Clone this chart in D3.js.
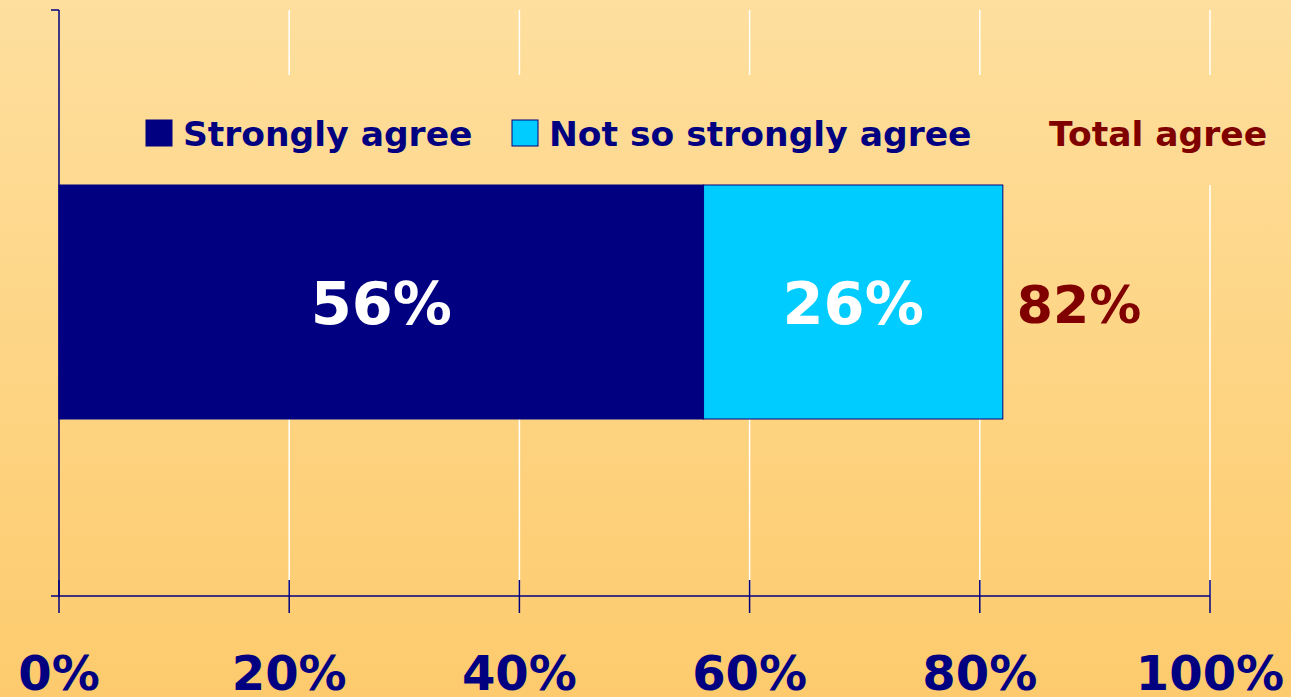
<!DOCTYPE html>
<html><head><meta charset="utf-8">
<script src="https://cdn.jsdelivr.net/npm/d3@7"></script>
<style>html,body{margin:0;padding:0;overflow:hidden;}svg{display:block;}</style>
</head><body>
<svg id="c" width="1291" height="697"></svg>
<script>
const categories = ["Total"];
const seriesNames = ["Strongly agree", "Not so strongly agree"];
const strongly = [56];
const notSo = [26];
const totals = [82];
const tickValues = [0, 20, 40, 60, 80, 100];
const tickLabels = ["0%", "20%", "40%", "60%", "80%", "100%"];
const colors = ["#000080", "#00CCFF"];

const W = 1291, H = 697;
const svg = d3.select("#c");
const defs = svg.append("defs");
const grad = defs.append("linearGradient").attr("id","bg")
  .attr("gradientUnits","userSpaceOnUse").attr("x1",0).attr("y1",0).attr("x2",0).attr("y2",H);
grad.append("stop").attr("offset","0%").attr("stop-color","#FEDF9E");
grad.append("stop").attr("offset","100%").attr("stop-color","#FDCB6D");
svg.append("rect").attr("width",W).attr("height",H).attr("fill","url(#bg)");

const x = d3.scaleLinear().domain([0,100]).range([59,1210]);
const barTop = 185, barBot = 419;
const font = "'DejaVu Sans', Verdana, sans-serif";

// gridlines
svg.append("g").selectAll("line").data(tickValues.slice(1)).join("line")
  .attr("x1",d=>x(d)).attr("x2",d=>x(d)).attr("y1",10).attr("y2",597)
  .attr("stroke","#FFFFFF").attr("stroke-width",1.5);

// legend background covering gridlines
svg.append("rect").attr("x",120).attr("y",75).attr("width",W-120).attr("height",110).attr("fill","url(#bg)");

// bars
const stack = [
  {s:0, v:strongly[0], c:colors[0]},
  {s:strongly[0], v:notSo[0], c:colors[1]}
];
svg.append("g").selectAll("rect").data(stack).join("rect")
  .attr("x",d=>x(d.s)).attr("width",d=>x(d.s+d.v)-x(d.s))
  .attr("y",barTop).attr("height",barBot-barTop)
  .attr("fill",d=>d.c).attr("stroke","#000080").attr("stroke-width",1);

svg.append("g").selectAll("text").data(stack).join("text")
  .attr("x",d=>x(d.s+d.v/2)).attr("y",(barTop+barBot)/2+22)
  .attr("text-anchor","middle").attr("fill","#FFFFFF")
  .attr("font-family",font).attr("font-weight","bold").attr("font-size",59)
  .text(d=>d.v+"%");

svg.append("text").attr("x",x(totals[0])+14).attr("y",(barTop+barBot)/2+21)
  .attr("fill","#800000").attr("font-family",font).attr("font-weight","bold").attr("font-size",52)
  .text(totals[0]+"%");

// axes
const ax = svg.append("g").attr("stroke","#000080").attr("stroke-width",1.5);
ax.append("line").attr("x1",59).attr("x2",59).attr("y1",10).attr("y2",597);
ax.append("line").attr("x1",51).attr("x2",59).attr("y1",10).attr("y2",10);
ax.append("line").attr("x1",51).attr("x2",x(100)).attr("y1",596).attr("y2",596);
ax.selectAll("line.t").data(tickValues).join("line").attr("class","t")
  .attr("x1",d=>x(d)).attr("x2",d=>x(d)).attr("y1",580).attr("y2",613);

svg.append("g").selectAll("text").data(tickValues).join("text")
  .attr("x",d=>x(d)).attr("y",690).attr("text-anchor","middle")
  .attr("fill","#000080").attr("font-family",font).attr("font-weight","bold").attr("font-size",48)
  .text((d,i)=>tickLabels[i]);

// legend
const lg = svg.append("g").attr("font-family",font).attr("font-weight","bold").attr("font-size",34.5);
const legendX = [146, 512];
seriesNames.forEach((n,i)=>{
  lg.append("rect").attr("x",legendX[i]).attr("y",120).attr("width",26).attr("height",26)
    .attr("fill",colors[i]).attr("stroke","#000080").attr("stroke-width",1);
  lg.append("text").attr("x",legendX[i]+37).attr("y",146).attr("fill","#000080").text(n);
});
lg.append("text").attr("x",1049).attr("y",146).attr("fill","#800000").text("Total agree");
</script>
</body></html>
